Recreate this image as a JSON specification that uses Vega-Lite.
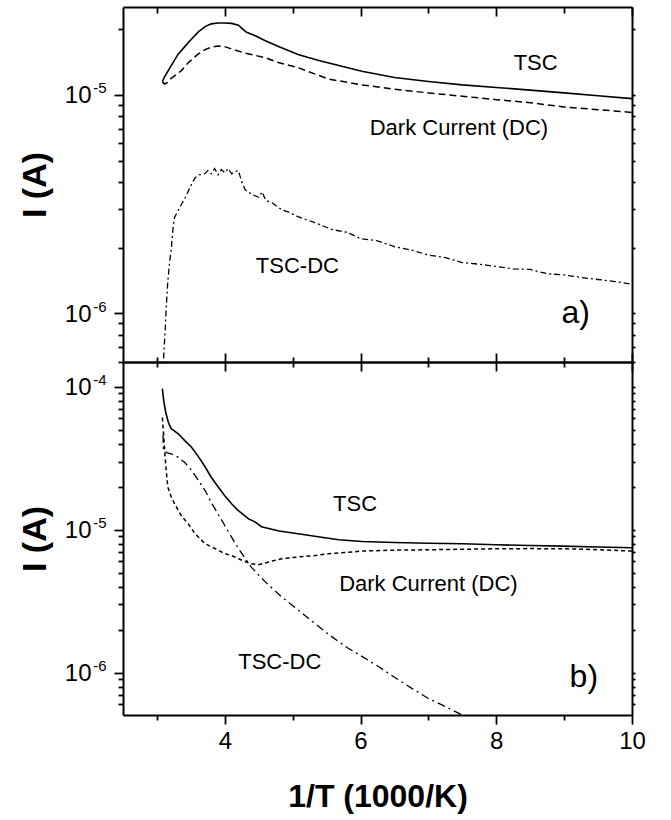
{
  "$schema": "https://vega.github.io/schema/vega-lite/v6.json",
  "autosize": {"type": "pad"},
  "padding": {"left": 18, "top": 6, "right": 5, "bottom": 5},
  "bounds": "flush",
  "spacing": 0,
  "config": {
    "font": "Liberation Sans",
    "view": {"stroke": null},
    "axis": {"domainColor": "black", "domainWidth": 2, "tickColor": "black", "tickWidth": 1.8, "ticks": true, "grid": false, "labelColor": "black", "titleColor": "black", "labelFont": "Liberation Sans", "titleFont": "Liberation Sans", "labelOverlap": false, "labelFlush": false}
  },
  "datasets": {
    "a_TSC": [
      {"x": 3.08, "y": 1.15e-5}, {"x": 3.12, "y": 1.22e-5}, {"x": 3.16, "y": 1.28e-5}, {"x": 3.21, "y": 1.36e-5},
      {"x": 3.26, "y": 1.44e-5}, {"x": 3.31, "y": 1.53e-5}, {"x": 3.41, "y": 1.66e-5}, {"x": 3.51, "y": 1.80e-5},
      {"x": 3.61, "y": 1.94e-5}, {"x": 3.71, "y": 2.05e-5}, {"x": 3.80, "y": 2.11e-5}, {"x": 3.90, "y": 2.13e-5},
      {"x": 4.00, "y": 2.13e-5}, {"x": 4.10, "y": 2.12e-5}, {"x": 4.20, "y": 2.08e-5}, {"x": 4.26, "y": 2.00e-5},
      {"x": 4.32, "y": 1.93e-5}, {"x": 4.45, "y": 1.86e-5}, {"x": 4.59, "y": 1.77e-5}, {"x": 4.80, "y": 1.66e-5},
      {"x": 5.08, "y": 1.53e-5}, {"x": 5.23, "y": 1.48e-5}, {"x": 5.40, "y": 1.43e-5}, {"x": 5.68, "y": 1.36e-5},
      {"x": 6.02, "y": 1.28e-5}, {"x": 6.50, "y": 1.20e-5}, {"x": 7.00, "y": 1.15e-5}, {"x": 7.50, "y": 1.11e-5},
      {"x": 8.00, "y": 1.08e-5}, {"x": 8.50, "y": 1.05e-5}, {"x": 9.00, "y": 1.02e-5}, {"x": 9.50, "y": 9.9e-6},
      {"x": 10.0, "y": 9.6e-6}
    ],
    "a_DC": [
      {"x": 3.08, "y": 1.15e-5}, {"x": 3.11, "y": 1.12e-5}, {"x": 3.16, "y": 1.14e-5}, {"x": 3.21, "y": 1.19e-5},
      {"x": 3.26, "y": 1.22e-5}, {"x": 3.36, "y": 1.29e-5}, {"x": 3.46, "y": 1.40e-5}, {"x": 3.60, "y": 1.53e-5},
      {"x": 3.71, "y": 1.61e-5}, {"x": 3.80, "y": 1.65e-5}, {"x": 3.90, "y": 1.67e-5}, {"x": 4.00, "y": 1.66e-5},
      {"x": 4.10, "y": 1.62e-5}, {"x": 4.30, "y": 1.55e-5}, {"x": 4.59, "y": 1.48e-5}, {"x": 4.80, "y": 1.40e-5},
      {"x": 5.08, "y": 1.33e-5}, {"x": 5.53, "y": 1.18e-5}, {"x": 6.02, "y": 1.11e-5}, {"x": 6.50, "y": 1.06e-5},
      {"x": 7.00, "y": 1.02e-5}, {"x": 7.50, "y": 9.85e-6}, {"x": 8.00, "y": 9.5e-6}, {"x": 8.50, "y": 9.2e-6},
      {"x": 9.00, "y": 8.8e-6}, {"x": 9.50, "y": 8.55e-6}, {"x": 10.0, "y": 8.3e-6}
    ],
    "a_DIFF": [
      {"x": 3.095, "y": 4.0e-7}, {"x": 3.10, "y": 6.5e-7}, {"x": 3.12, "y": 8.2e-7}, {"x": 3.14, "y": 1.1e-6},
      {"x": 3.16, "y": 1.4e-6}, {"x": 3.19, "y": 1.75e-6}, {"x": 3.21, "y": 1.96e-6}, {"x": 3.24, "y": 2.5e-6},
      {"x": 3.26, "y": 2.75e-6}, {"x": 3.31, "y": 2.95e-6}, {"x": 3.36, "y": 3.15e-6}, {"x": 3.41, "y": 3.35e-6},
      {"x": 3.51, "y": 3.9e-6}, {"x": 3.56, "y": 4.17e-6}, {"x": 3.62, "y": 4.3e-6}, {"x": 3.70, "y": 4.35e-6},
      {"x": 3.75, "y": 4.5e-6}, {"x": 3.80, "y": 4.35e-6}, {"x": 3.85, "y": 4.6e-6}, {"x": 3.90, "y": 4.3e-6},
      {"x": 3.95, "y": 4.55e-6}, {"x": 4.00, "y": 4.4e-6}, {"x": 4.05, "y": 4.6e-6}, {"x": 4.10, "y": 4.35e-6},
      {"x": 4.15, "y": 4.45e-6}, {"x": 4.20, "y": 4.5e-6}, {"x": 4.25, "y": 4.0e-6}, {"x": 4.30, "y": 3.68e-6},
      {"x": 4.40, "y": 3.5e-6}, {"x": 4.50, "y": 3.4e-6}, {"x": 4.55, "y": 3.6e-6}, {"x": 4.60, "y": 3.3e-6},
      {"x": 4.70, "y": 3.2e-6}, {"x": 4.84, "y": 2.98e-6}, {"x": 4.95, "y": 2.9e-6}, {"x": 5.08, "y": 2.77e-6},
      {"x": 5.33, "y": 2.6e-6}, {"x": 5.58, "y": 2.42e-6}, {"x": 5.80, "y": 2.35e-6}, {"x": 6.00, "y": 2.2e-6},
      {"x": 6.25, "y": 2.15e-6}, {"x": 6.50, "y": 2.02e-6}, {"x": 6.75, "y": 1.95e-6}, {"x": 7.00, "y": 1.85e-6},
      {"x": 7.25, "y": 1.8e-6}, {"x": 7.50, "y": 1.71e-6}, {"x": 7.75, "y": 1.68e-6}, {"x": 8.00, "y": 1.64e-6},
      {"x": 8.25, "y": 1.6e-6}, {"x": 8.50, "y": 1.59e-6}, {"x": 8.75, "y": 1.52e-6}, {"x": 9.00, "y": 1.5e-6},
      {"x": 9.25, "y": 1.46e-6}, {"x": 9.50, "y": 1.43e-6}, {"x": 9.75, "y": 1.4e-6}, {"x": 10.0, "y": 1.36e-6}
    ],
    "b_TSC": [
      {"x": 3.08, "y": 9.7e-5}, {"x": 3.10, "y": 8.0e-5}, {"x": 3.13, "y": 6.6e-5}, {"x": 3.17, "y": 5.6e-5},
      {"x": 3.21, "y": 5.09e-5}, {"x": 3.26, "y": 4.9e-5}, {"x": 3.31, "y": 4.7e-5}, {"x": 3.36, "y": 4.45e-5},
      {"x": 3.41, "y": 4.2e-5}, {"x": 3.51, "y": 3.78e-5}, {"x": 3.60, "y": 3.3e-5}, {"x": 3.70, "y": 2.8e-5},
      {"x": 3.80, "y": 2.33e-5}, {"x": 3.90, "y": 2.0e-5}, {"x": 4.00, "y": 1.73e-5}, {"x": 4.10, "y": 1.52e-5},
      {"x": 4.20, "y": 1.36e-5}, {"x": 4.35, "y": 1.19e-5}, {"x": 4.45, "y": 1.13e-5}, {"x": 4.54, "y": 1.05e-5},
      {"x": 4.80, "y": 9.8e-6}, {"x": 5.08, "y": 9.37e-6}, {"x": 5.40, "y": 8.9e-6}, {"x": 5.68, "y": 8.51e-6},
      {"x": 6.02, "y": 8.28e-6}, {"x": 6.50, "y": 8.15e-6}, {"x": 7.00, "y": 8.05e-6}, {"x": 7.50, "y": 7.98e-6},
      {"x": 8.00, "y": 7.85e-6}, {"x": 8.50, "y": 7.75e-6}, {"x": 8.97, "y": 7.68e-6}, {"x": 9.50, "y": 7.58e-6},
      {"x": 10.0, "y": 7.48e-6}
    ],
    "b_DC": [
      {"x": 3.08, "y": 6.1e-5}, {"x": 3.10, "y": 4.5e-5}, {"x": 3.12, "y": 3.22e-5}, {"x": 3.14, "y": 2.5e-5},
      {"x": 3.16, "y": 1.99e-5}, {"x": 3.21, "y": 1.7e-5}, {"x": 3.26, "y": 1.52e-5}, {"x": 3.36, "y": 1.25e-5},
      {"x": 3.46, "y": 1.10e-5}, {"x": 3.56, "y": 9.4e-6}, {"x": 3.71, "y": 7.98e-6}, {"x": 3.85, "y": 7.4e-6},
      {"x": 4.00, "y": 6.8e-6}, {"x": 4.10, "y": 6.6e-6}, {"x": 4.20, "y": 6.27e-6}, {"x": 4.30, "y": 6.0e-6},
      {"x": 4.39, "y": 5.78e-6}, {"x": 4.50, "y": 5.7e-6}, {"x": 4.59, "y": 5.84e-6}, {"x": 4.70, "y": 6.05e-6},
      {"x": 4.84, "y": 6.27e-6}, {"x": 5.08, "y": 6.45e-6}, {"x": 5.33, "y": 6.6e-6}, {"x": 5.53, "y": 6.8e-6},
      {"x": 5.80, "y": 6.95e-6}, {"x": 6.02, "y": 7.09e-6}, {"x": 6.50, "y": 7.2e-6}, {"x": 7.00, "y": 7.24e-6},
      {"x": 7.50, "y": 7.3e-6}, {"x": 8.00, "y": 7.36e-6}, {"x": 8.50, "y": 7.38e-6}, {"x": 9.00, "y": 7.36e-6},
      {"x": 9.50, "y": 7.25e-6}, {"x": 10.0, "y": 7.09e-6}
    ],
    "b_DIFF": [
      {"x": 3.09, "y": 4.6e-5}, {"x": 3.095, "y": 3.6e-5}, {"x": 3.15, "y": 3.45e-5}, {"x": 3.21, "y": 3.4e-5},
      {"x": 3.31, "y": 3.22e-5}, {"x": 3.41, "y": 2.95e-5}, {"x": 3.51, "y": 2.6e-5}, {"x": 3.61, "y": 2.22e-5},
      {"x": 3.71, "y": 1.88e-5}, {"x": 3.80, "y": 1.55e-5}, {"x": 3.90, "y": 1.29e-5}, {"x": 4.00, "y": 1.07e-5},
      {"x": 4.10, "y": 8.88e-6}, {"x": 4.20, "y": 7.4e-6}, {"x": 4.30, "y": 6.3e-6}, {"x": 4.39, "y": 5.48e-6},
      {"x": 4.60, "y": 4.3e-6}, {"x": 4.84, "y": 3.38e-6}, {"x": 5.08, "y": 2.75e-6}, {"x": 5.33, "y": 2.2e-6},
      {"x": 5.58, "y": 1.78e-6}, {"x": 5.80, "y": 1.5e-6}, {"x": 6.02, "y": 1.3e-6}, {"x": 6.27, "y": 1.1e-6},
      {"x": 6.50, "y": 9.3e-7}, {"x": 6.75, "y": 7.8e-7}, {"x": 7.00, "y": 6.6e-7}, {"x": 7.25, "y": 5.8e-7},
      {"x": 7.52, "y": 5.0e-7}, {"x": 7.70, "y": 4.5e-7}
    ],
    "a_text": [
      {"x": 8.58, "y": 1.40e-5, "label": "TSC"},
      {"x": 7.45, "y": 7.05e-6, "label": "Dark Current (DC)"},
      {"x": 5.07, "y": 1.64e-6, "label": "TSC-DC"}
    ],
    "b_text": [
      {"x": 5.92, "y": 1.52e-5, "label": "TSC"},
      {"x": 7.0, "y": 4.19e-6, "label": "Dark Current (DC)"},
      {"x": 4.81, "y": 1.19e-6, "label": "TSC-DC"}
    ],
    "a_letter": [{"x": 9.17, "y": 1.0e-6, "label": "a)"}],
    "b_letter": [{"x": 9.29, "y": 9.3e-7, "label": "b)"}]
  },
  "vconcat": [
    {
      "width": 509,
      "height": 355,
      "resolve": {"axis": {"x": "independent", "y": "independent"}},
      "layer": [
        {
          "data": {"name": "a_TSC"},
          "mark": {"type": "line", "clip": true, "color": "black", "strokeWidth": 1.6},
          "encoding": {
            "x": {"field": "x", "type": "quantitative", "scale": {"domain": [2.5, 10], "nice": false, "zero": false},
              "axis": {"orient": "bottom", "values": [4, 6, 8, 10], "tickSize": 9, "labels": false, "title": null}},
            "y": {"field": "y", "type": "quantitative", "scale": {"type": "log", "domain": [6.0e-7, 2.52e-5], "nice": false},
              "axis": {"orient": "left", "values": [1e-6, 1e-5], "tickSize": 9, "labelFontSize": 24, "labelPadding": 23, "labelOffset": 1,
                "labelExpr": "'10'",
                "title": "I (A)", "titleFontSize": 34, "titleFontWeight": "bold", "titlePadding": 12}}
          }
        },
        {
          "data": {"name": "a_DC"},
          "mark": {"type": "line", "clip": true, "color": "black", "strokeWidth": 1.5, "strokeDash": [7, 4]},
          "encoding": {
            "x": {"field": "x", "type": "quantitative", "scale": {"domain": [2.5, 10], "nice": false, "zero": false},
              "axis": {"orient": "bottom", "values": [3, 5, 7, 9], "tickSize": 5, "labels": false, "title": null, "domain": false}},
            "y": {"field": "y", "type": "quantitative", "scale": {"type": "log", "domain": [6.0e-7, 2.52e-5], "nice": false},
              "axis": {"orient": "left", "values": [6e-7, 7e-7, 8e-7, 9e-7, 2e-6, 3e-6, 4e-6, 5e-6, 6e-6, 7e-6, 8e-6, 9e-6, 2e-5], "tickSize": 5, "labels": false, "title": null, "domain": false}}
          }
        },
        {
          "data": {"name": "a_DIFF"},
          "mark": {"type": "line", "clip": true, "color": "black", "strokeWidth": 1.3, "strokeDash": [6, 3, 2, 3]},
          "encoding": {
            "x": {"field": "x", "type": "quantitative", "scale": {"domain": [2.5, 10], "nice": false, "zero": false},
              "axis": {"orient": "top", "values": [4, 6, 8, 10], "tickSize": -9, "labels": false, "title": null}},
            "y": {"field": "y", "type": "quantitative", "scale": {"type": "log", "domain": [6.0e-7, 2.52e-5], "nice": false},
              "axis": {"orient": "right", "values": [6e-7, 7e-7, 8e-7, 9e-7, 1e-6, 2e-6, 3e-6, 4e-6, 5e-6, 6e-6, 7e-6, 8e-6, 9e-6, 1e-5, 2e-5], "tickSize": 3, "labels": false, "title": null}}
          }
        },
        {
          "data": {"name": "a_text"},
          "mark": {"type": "text", "fontSize": 22, "font": "Liberation Sans", "align": "center", "baseline": "middle", "color": "black"},
          "encoding": {
            "x": {"field": "x", "type": "quantitative", "scale": {"domain": [2.5, 10], "nice": false, "zero": false},
              "axis": {"orient": "top", "values": [3, 5, 7, 9], "tickSize": -6, "labels": false, "title": null, "domain": false}},
            "y": {"field": "y", "type": "quantitative", "scale": {"type": "log", "domain": [6.0e-7, 2.52e-5], "nice": false},
              "axis": {"orient": "left", "values": [1e-6, 1e-5], "ticks": false, "domain": false, "labelFontSize": 15, "labelPadding": 17, "labelOffset": -7,
                "labelExpr": "datum.value == 1e-4 ? '-4' : datum.value == 1e-5 ? '-5' : '-6'", "title": null}},
            "text": {"field": "label"}
          }
        },
        {
          "data": {"name": "a_letter"},
          "mark": {"type": "text", "fontSize": 32, "font": "Liberation Sans", "align": "center", "baseline": "middle", "color": "black"},
          "encoding": {
            "x": {"field": "x", "type": "quantitative", "scale": {"domain": [2.5, 10], "nice": false, "zero": false}, "axis": null},
            "y": {"field": "y", "type": "quantitative", "scale": {"type": "log", "domain": [6.0e-7, 2.52e-5], "nice": false}, "axis": null},
            "text": {"field": "label"}
          }
        }
      ]
    },
    {
      "width": 509,
      "height": 353,
      "resolve": {"axis": {"x": "independent", "y": "independent"}},
      "layer": [
        {
          "data": {"name": "b_TSC"},
          "mark": {"type": "line", "clip": true, "color": "black", "strokeWidth": 1.6},
          "encoding": {
            "x": {"field": "x", "type": "quantitative", "scale": {"domain": [2.5, 10], "nice": false, "zero": false},
              "axis": {"orient": "bottom", "values": [4, 6, 8, 10], "tickSize": 9, "labelFontSize": 24, "labelPadding": 5,
                "title": "1/T (1000/K)", "titleFontSize": 32, "titleFontWeight": "bold", "titlePadding": 28}},
            "y": {"field": "y", "type": "quantitative", "scale": {"type": "log", "domain": [5.06e-7, 1.49e-4], "nice": false},
              "axis": {"orient": "left", "values": [1e-6, 1e-5, 1e-4], "tickSize": 9, "labelFontSize": 24, "labelPadding": 23, "labelOffset": 1,
                "labelExpr": "'10'",
                "title": "I (A)", "titleFontSize": 34, "titleFontWeight": "bold", "titlePadding": 12}}
          }
        },
        {
          "data": {"name": "b_DC"},
          "mark": {"type": "line", "clip": true, "color": "black", "strokeWidth": 1.5, "strokeDash": [4, 3]},
          "encoding": {
            "x": {"field": "x", "type": "quantitative", "scale": {"domain": [2.5, 10], "nice": false, "zero": false},
              "axis": {"orient": "bottom", "values": [3, 5, 7, 9], "tickSize": 5, "labels": false, "title": null, "domain": false}},
            "y": {"field": "y", "type": "quantitative", "scale": {"type": "log", "domain": [5.06e-7, 1.49e-4], "nice": false},
              "axis": {"orient": "left", "values": [6e-7, 7e-7, 8e-7, 9e-7, 2e-6, 3e-6, 4e-6, 5e-6, 6e-6, 7e-6, 8e-6, 9e-6, 2e-5, 3e-5, 4e-5, 5e-5, 6e-5, 7e-5, 8e-5, 9e-5], "tickSize": 5, "labels": false, "title": null, "domain": false}}
          }
        },
        {
          "data": {"name": "b_DIFF"},
          "mark": {"type": "line", "clip": true, "color": "black", "strokeWidth": 1.3, "strokeDash": [8, 4, 2, 4]},
          "encoding": {
            "x": {"field": "x", "type": "quantitative", "scale": {"domain": [2.5, 10], "nice": false, "zero": false},
              "axis": {"orient": "top", "values": [4, 6, 8, 10], "tickSize": 9, "labels": false, "title": null}},
            "y": {"field": "y", "type": "quantitative", "scale": {"type": "log", "domain": [5.06e-7, 1.49e-4], "nice": false},
              "axis": {"orient": "right", "values": [6e-7, 7e-7, 8e-7, 9e-7, 1e-6, 2e-6, 3e-6, 4e-6, 5e-6, 6e-6, 7e-6, 8e-6, 9e-6, 1e-5, 2e-5, 3e-5, 4e-5, 5e-5, 6e-5, 7e-5, 8e-5, 9e-5, 1e-4], "tickSize": 3, "labels": false, "title": null}}
          }
        },
        {
          "data": {"name": "b_text"},
          "mark": {"type": "text", "fontSize": 22, "font": "Liberation Sans", "align": "center", "baseline": "middle", "color": "black"},
          "encoding": {
            "x": {"field": "x", "type": "quantitative", "scale": {"domain": [2.5, 10], "nice": false, "zero": false},
              "axis": {"orient": "top", "values": [3, 5, 7, 9], "tickSize": 5, "labels": false, "title": null, "domain": false}},
            "y": {"field": "y", "type": "quantitative", "scale": {"type": "log", "domain": [5.06e-7, 1.49e-4], "nice": false},
              "axis": {"orient": "left", "values": [1e-6, 1e-5, 1e-4], "ticks": false, "domain": false, "labelFontSize": 15, "labelPadding": 17, "labelOffset": -7,
                "labelExpr": "datum.value == 1e-4 ? '-4' : datum.value == 1e-5 ? '-5' : '-6'", "title": null}},
            "text": {"field": "label"}
          }
        },
        {
          "data": {"name": "b_letter"},
          "mark": {"type": "text", "fontSize": 32, "font": "Liberation Sans", "align": "center", "baseline": "middle", "color": "black"},
          "encoding": {
            "x": {"field": "x", "type": "quantitative", "scale": {"domain": [2.5, 10], "nice": false, "zero": false}, "axis": null},
            "y": {"field": "y", "type": "quantitative", "scale": {"type": "log", "domain": [5.06e-7, 1.49e-4], "nice": false}, "axis": null},
            "text": {"field": "label"}
          }
        }
      ]
    }
  ]
}
